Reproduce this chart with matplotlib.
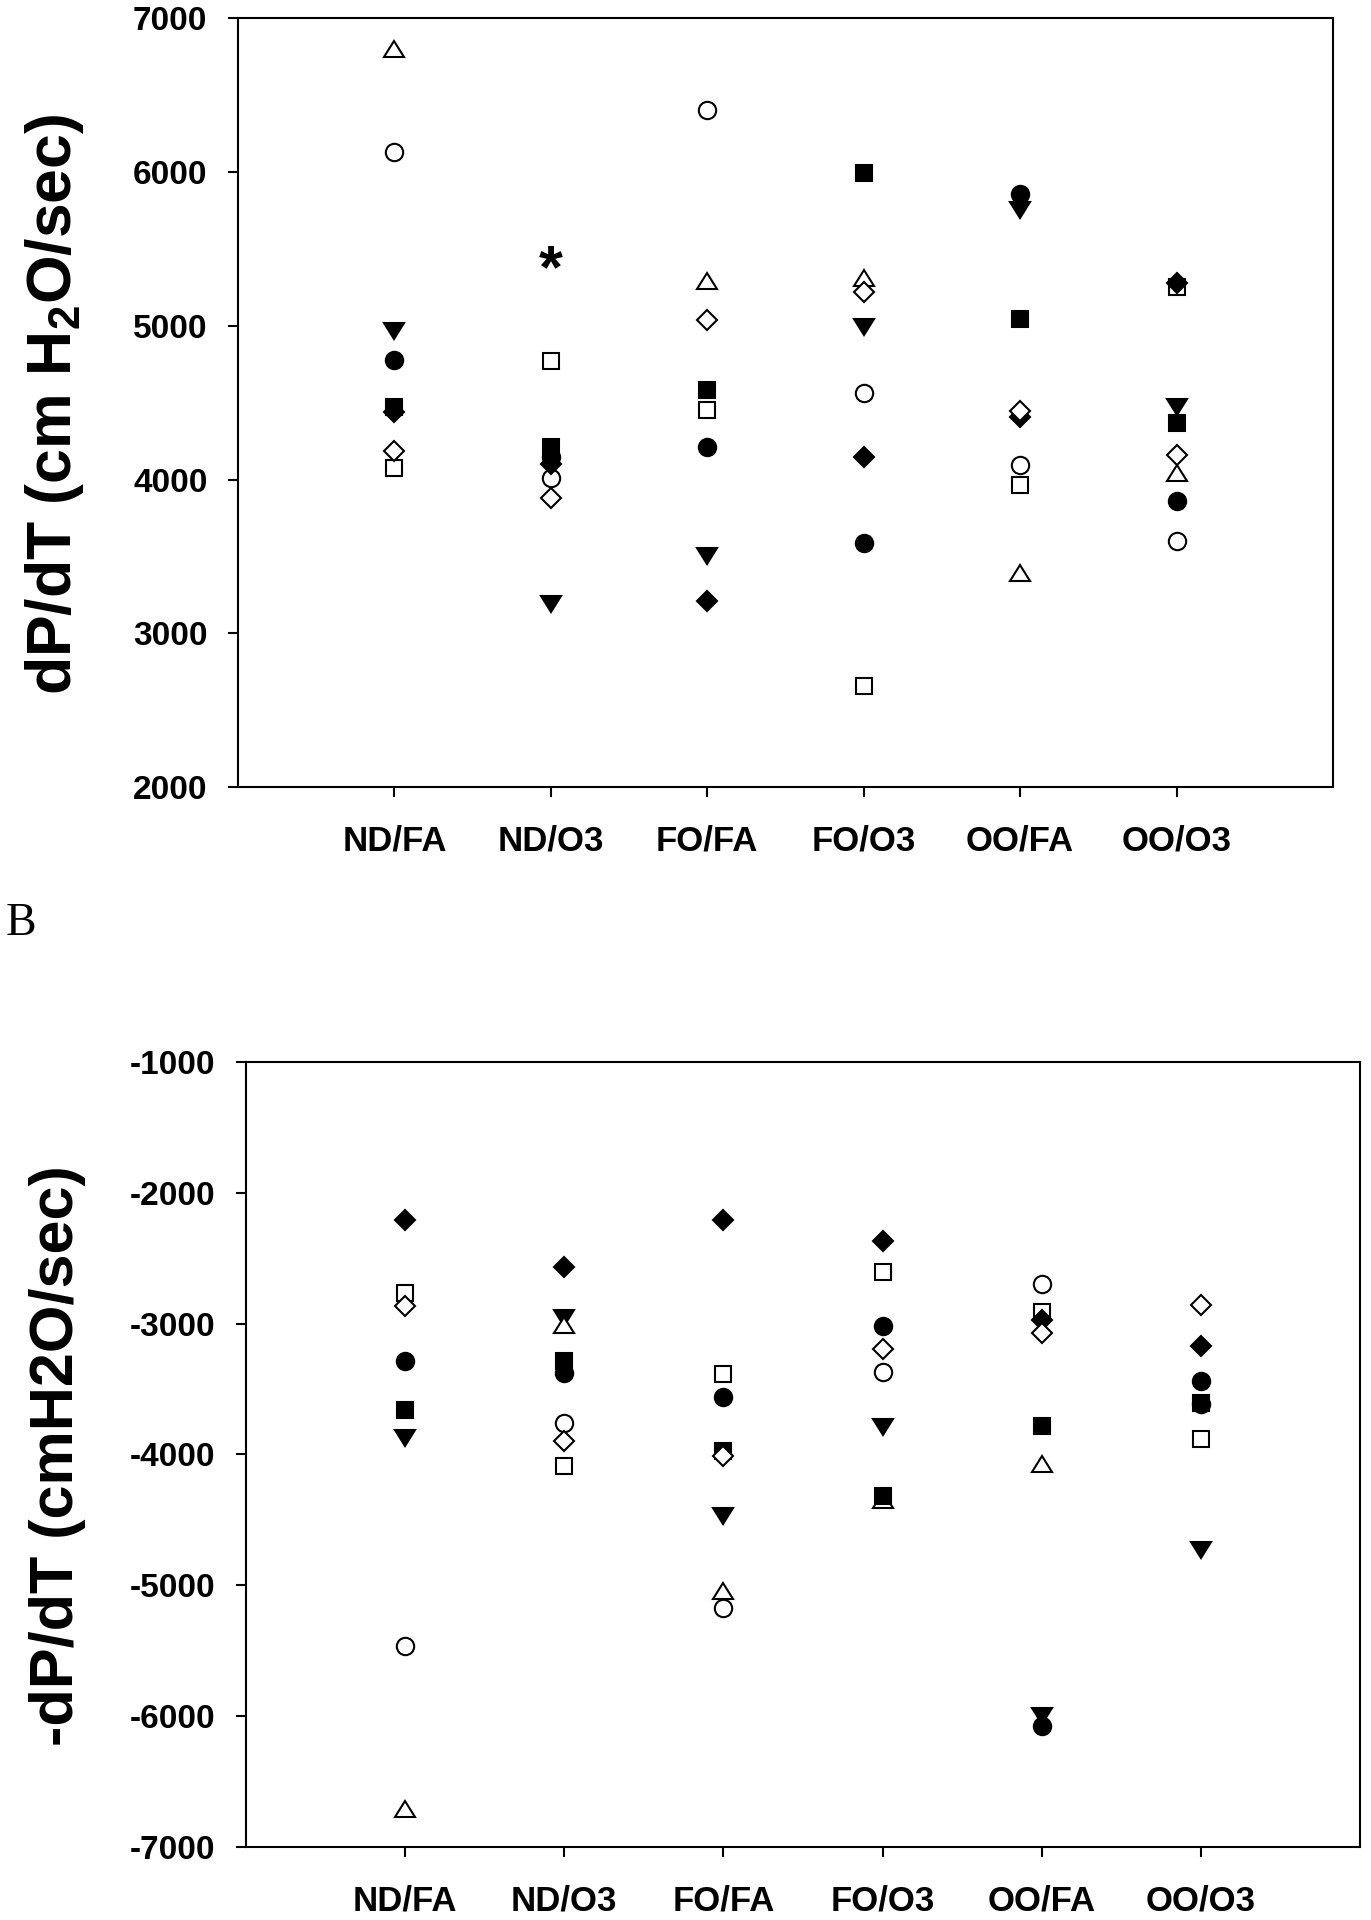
import numpy as np
import matplotlib

matplotlib.use("Agg")
import matplotlib.pyplot as plt
from matplotlib.markers import MarkerStyle
from matplotlib.transforms import Affine2D

plt.rcParams["font.family"] = ["Liberation Sans", "DejaVu Sans"]
plt.rcParams["font.weight"] = "bold"
plt.rcParams["mathtext.default"] = "regular"
plt.rcParams["axes.unicode_minus"] = False

groups = ["ND/FA", "ND/O3", "FO/FA", "FO/O3", "OO/FA", "OO/O3"]
nan = np.nan

# panel A: dP/dT (cm H2O/sec), one list per animal symbol
a_filled_circle = [4780, 4150, 4215, 3590, 5860, 3860]
a_open_circle = [6130, 4010, 6405, 4560, 4095, 3600]
a_filled_tri = [4965, 3190, 3500, 4990, 5755, 4470]
a_open_tri = [6800, nan, 5290, 5310, 3395, 4045]
a_filled_square = [4470, 4215, 4585, 5995, 5045, 4370]
a_open_square = [4075, 4770, 4455, 2660, 3965, 5255]
a_filled_diamond = [4440, 4100, 3210, 4145, 4410, 5280]
a_open_diamond = [4185, 3880, 5035, 5220, 4445, 4160]
a_star = (2, 5450)  # significance mark over ND/O3

# panel B: -dP/dT (cmH2O/sec)
b_filled_circle = [-3287, -3376, -3559, -3015, -6076, -3440]
b_open_circle = [-5465, -3758, -5171, -3371, -2694, -3615]
b_filled_tri = [-3873, -2956, -4471, -3791, -5999, -4731]
b_open_tri = [-6712, -3007, -5044, -4345, -4076, nan]
b_filled_square = [-3662, -3287, -3975, -4319, -3784, -3610]
b_open_square = [-2765, -4089, -3381, -2607, -2913, -3880]
b_filled_diamond = [-2205, -2566, -2205, -2365, -2969, -3172]
b_open_diamond = [-2867, -3898, -4008, -3193, -3070, -2859]

squash = Affine2D().scale(1.0, 0.78)
# (marker, size, filled) in SigmaPlot draw order
styles = [
    ("o", 12.5, True),
    ("o", 12.5, False),
    (MarkerStyle("v", transform=squash), 14.5, True),
    (MarkerStyle("^", transform=squash), 14.5, False),
    ("s", 11, True),
    ("s", 11, False),
    ("D", 10.5, True),
    ("D", 10.5, False),
]

series_a = [a_filled_circle, a_open_circle, a_filled_tri, a_open_tri,
            a_filled_square, a_open_square, a_filled_diamond, a_open_diamond]
series_b = [b_filled_circle, b_open_circle, b_filled_tri, b_open_tri,
            b_filled_square, b_open_square, b_filled_diamond, b_open_diamond]

x = np.arange(1, len(groups) + 1)

fig = plt.figure(figsize=(13.71, 19.2), dpi=100)
ax1 = fig.add_axes([0.1736, 0.5901, 0.7987, 0.4003])
ax2 = fig.add_axes([0.1794, 0.0380, 0.8126, 0.4089])


def draw(ax, series, ylim, yticks):
    for vals, (m, ms, filled) in zip(series, styles):
        ax.plot(x, vals, linestyle="none", marker=m, markersize=ms,
                markerfacecolor="black" if filled else "white",
                markeredgecolor="black", markeredgewidth=1.5)
    ax.set_xlim(0, 7)
    ax.set_ylim(*ylim)
    ax.set_yticks(yticks)
    ax.set_xticks(x)
    ax.set_xticklabels(groups)
    for s in ax.spines.values():
        s.set_linewidth(1.5)
    ax.tick_params(axis="y", length=7, width=1.5, pad=15, labelsize=24)
    ax.tick_params(axis="x", length=7, width=1.5, pad=20, labelsize=25)


draw(ax1, series_a, (2000, 7000), np.arange(2000, 7001, 1000))
draw(ax2, series_b, (-7000, -1000), np.arange(-7000, -999, 1000))

ax1.annotate("*", a_star, xytext=(0, -11), textcoords="offset points",
             ha="center", va="center", fontsize=44, fontweight="bold")

fig.text(0.040, 0.7896, r"dP/dT (cm H$\mathregular{_2}$O/sec)", rotation=90,
         ha="center", va="center", fontsize=45, fontweight="bold")
fig.text(0.042, 0.2417, "-dP/dT (cmH2O/sec)", rotation=90,
         ha="center", va="center", fontsize=44, fontweight="bold")
fig.text(0.0044, 0.513, "B", family=["Liberation Serif", "DejaVu Serif"],
         fontweight="normal", fontsize=33, va="baseline", ha="left")

fig.savefig("out.png", dpi=100)
